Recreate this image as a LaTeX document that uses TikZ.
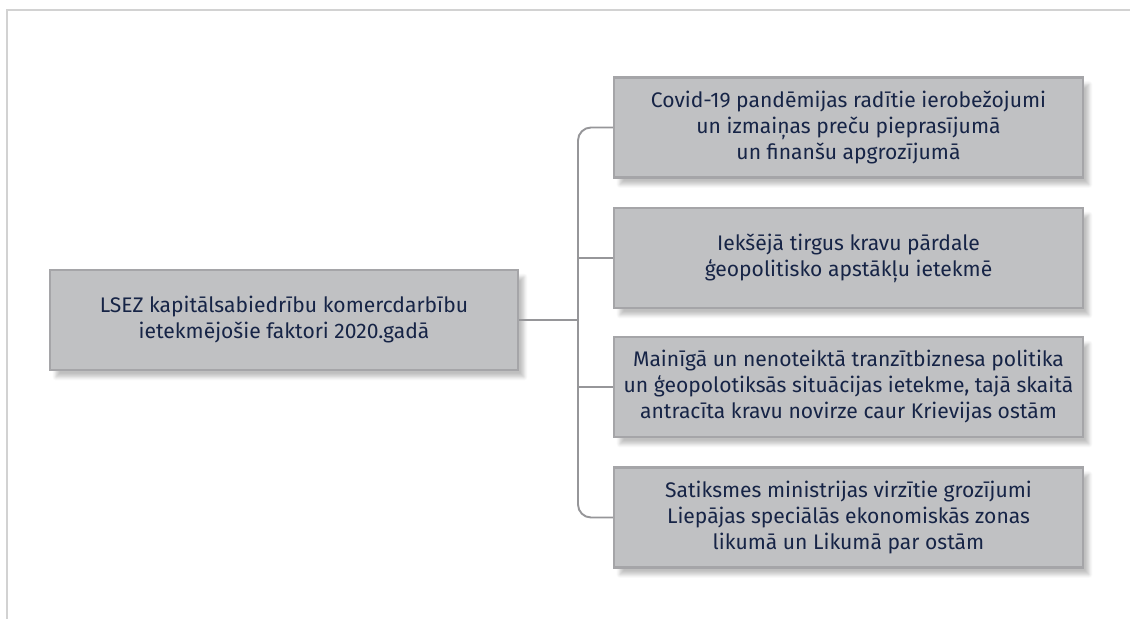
\documentclass[tikz,border=0pt]{standalone}
\usepackage{fontspec}
\setmainfont{Fira Sans}
\usetikzlibrary{shadows.blur}

\definecolor{boxfill}{RGB}{192,193,195}
\definecolor{boxline}{RGB}{165,165,168}
\definecolor{linkcol}{RGB}{150,150,153}
\definecolor{framecol}{RGB}{210,210,210}
\definecolor{textcol}{RGB}{22,36,70}

\tikzset{
  factor/.style={draw=boxline, line width=1.2pt, fill=boxfill, text=textcol,
    minimum width=9.38cm, minimum height=2cm, align=center, font=\fontsize{12}{14.8}\selectfont,
    blur shadow={shadow xshift=0.12cm, shadow yshift=-0.14cm, shadow blur steps=6, shadow opacity=25}},
  link/.style={draw=linkcol, line width=1.1pt}
}

\begin{document}
\begin{tikzpicture}[x=0.02cm, y=-0.02cm]
                \useasboundingbox (0,0) rectangle (1130,619);
                % Frame
                \draw [framecol, line width=0.9pt] (1130, 10) -- (7, 10) -- (7, 619);
                % Main box
                \node [factor, minimum width=9.36cm] (main) at (284, 320) {LSEZ kapitālsabiedrību komercdarbību\\ietekmējošie faktori 2020.gadā};
                % Factors
                \node [factor] (f1) at (848.5, 127.5) {Covid-19 pandēmijas radītie ierobežojumi\\un izmaiņas preču pieprasījumā\\un finanšu apgrozījumā};
                \node [factor] (f2) at (848.5, 258) {Iekšējā tirgus kravu pārdale\\ģeopolitisko apstākļu ietekmē};
                \node [factor] (f3) at (848.5, 387) {Mainīgā un nenoteiktā tranzītbiznesa politika\\un ģeopolotiksās situācijas ietekme, tajā skaitā\\antracīta kravu novirze caur Krievijas ostām};
                \node [factor] (f4) at (848.5, 517.5) {Satiksmes ministrijas virzītie grozījumi\\Liepājas speciālās ekonomiskās zonas\\likumā un Likumā par ostām};
                % Links
                \coordinate (trunk) at (578, 320);
                \draw [link, rounded corners=0.26cm] (f1.west) -| (trunk |- f4.west) -- (f4.west);
                \draw [link] (main.east) -- (main.east -| trunk);
                \draw [link] (f2.west) -- (f2.west -| trunk);
                \draw [link] (f3.west) -- (f3.west -| trunk);
            \end{tikzpicture}
\end{document}
